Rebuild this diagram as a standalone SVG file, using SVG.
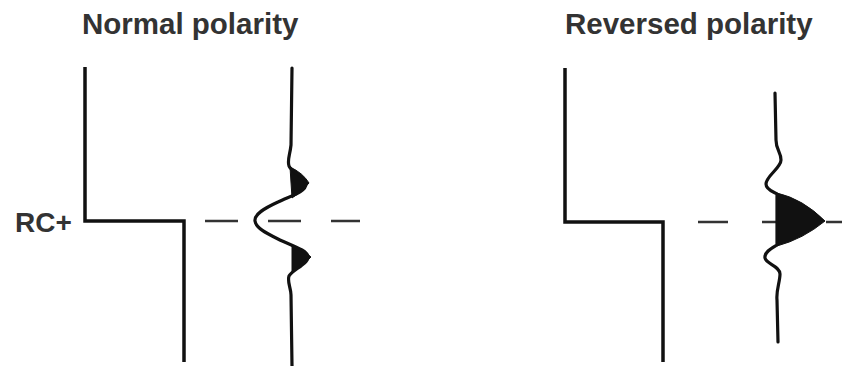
<svg xmlns="http://www.w3.org/2000/svg" width="842" height="366" viewBox="0 0 842 366">
<style>
.title{font-family:"Liberation Sans",Arial,sans-serif;font-weight:bold;font-size:29.5px;fill:#333}
.lbl{font-family:"Liberation Sans",Arial,sans-serif;font-weight:bold;font-size:28px;fill:#333}
.step{fill:none;stroke:#111;stroke-width:3.5;stroke-linejoin:miter}
.trace{fill:none;stroke:#111;stroke-width:3.2;stroke-linejoin:round;stroke-linecap:round}
.lobe{fill:#111;stroke:#111;stroke-width:1}
.dash{fill:none;stroke:#333;stroke-width:2.5}
</style>
<rect width="842" height="366" fill="#fff"/>
<g id="titles">
<text class="title" x="82" y="34">Normal polarity</text>
<text class="title" x="565" y="34">Reversed polarity</text>
</g>
<g id="rc-label"><text class="lbl" x="15" y="232">RC+</text></g>
<g id="normal-log"><path class="step" d="M85,67 L85,221 L184,221 L184,362"/></g>
<g id="reversed-log"><path class="step" d="M565,68 L565,222 L663,222 L663,362"/></g>
<g id="connectors">
<path class="dash" d="M205,221 L360,221" stroke-dasharray="33,30"/>
<path class="dash" d="M698,222 L842,222" stroke-dasharray="30,34"/>
</g>
<g id="normal-trace">
<path class="lobe" d="M290,167 Q303,173 309,183 Q302,192 292,198 Z"/>
<path class="lobe" d="M292,245 Q304,250 311,257 Q304,265 292,272 Z"/>
<path class="trace" d="M292,68 L291,145 C290,155 287,160 289,166 C291,172 306,177 306,184 C306,192 290,196 278,202 C265,208 254,214 255,221 C256,228 266,233 278,239 C290,245 308,250 308,257 C308,264 292,270 289,276 C287,282 291,288 291,295 L292,366"/>
</g>
<g id="reversed-trace">
<path class="lobe" d="M777,193 Q803,199 825,221 Q803,239 777,246 Z"/>
<path class="trace" d="M775,93 L776,140 C776,150 781,152 781,160 C781,168 766,176 766,184 C766,190 774,192 777,194 L777,245 C772,248 764,252 765,258 C766,264 780,266 780,274 C780,282 776,290 777,300 L778,342"/>
</g>
</svg>
